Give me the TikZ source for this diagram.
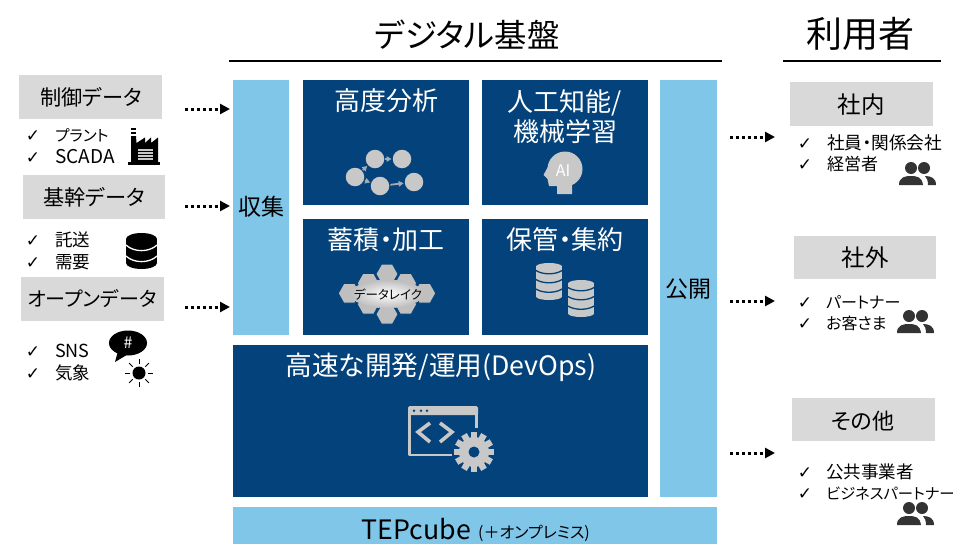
\documentclass[tikz,border=0pt]{standalone}
\usepackage{fontspec}
\setmainfont{Noto Sans CJK JP}[RawFeature=+palt]
\newfontfamily\symfont{DejaVu Sans}
\usetikzlibrary{arrows.meta,calc}
\definecolor{navy}{HTML}{03427A}
\definecolor{skyb}{HTML}{7FC6E8}
\definecolor{lgrey}{HTML}{D9D9D9}
\definecolor{igrey}{HTML}{C8C8C8}
\definecolor{hgrey}{HTML}{BFBFBF}
\definecolor{dgrey}{HTML}{333333}
\newcommand{\fs}[1]{\fontsize{#1}{#1}\selectfont}
\tikzset{
  txt/.style={inner sep=0pt,execute at begin node={\rule[-.12em]{0pt}{1em}},execute at end node={\rule[-.12em]{0pt}{1em}}},
  title/.style={txt,font=\fs{32.4}},
  cat/.style={txt,font=\fs{21.2}},
  head/.style={txt,font=\fontsize{26}{30}\selectfont,text=white,align=center},
  side/.style={txt,font=\fs{23},text=black},
  item/.style={txt,anchor=west,font=\fs{17}},
  tick/.style={txt,font=\symfont\fs{17}},
  flow/.style={line width=3pt,dash pattern=on 3pt off 2.9pt,-{Triangle[length=10pt,width=10pt]}},
  garrow/.style={draw=hgrey!85!navy,line width=1.8pt,-{Triangle[length=5pt,width=5.5pt]},shorten >=1pt,shorten <=1pt},
  gnode/.style={circle,fill=igrey,minimum size=18.5pt,inner sep=0pt},
  greybox/.style={fill=lgrey},
  navybox/.style={fill=navy},
  skybox/.style={fill=skyb}
}
\newcommand{\lst}[5]{% name, check x, text x, y, text
  \node[tick] (#1c) at (#2,#4) {✓};
  \node[item] (#1) at (#3,#4) {#5};
}
\newcommand{\people}[2]{% left, head y
  \fill[dgrey] ({#1+12},#2) circle (6);
  \fill[dgrey] ({#1+25},#2) circle (6);
  \fill[dgrey] (#1,{#2+17}) .. controls (#1,{#2+9}) and ({#1+6},{#2+8}) .. ({#1+12},{#2+8}) .. controls ({#1+18},{#2+8}) and ({#1+23},{#2+9}) .. ({#1+24},{#2+17}) -- cycle;
  \fill[dgrey] ({#1+26},{#2+8}) .. controls ({#1+32},{#2+8}) and ({#1+37},{#2+10}) .. ({#1+37},{#2+17}) -- ({#1+29},{#2+17}) .. controls ({#1+29},{#2+13}) and ({#1+28},{#2+10}) .. ({#1+26},{#2+8}) -- cycle;
}
\newcommand{\dbicon}[8]{% cx, top, half width, bottom, ry, fill, sep colour, separators
  \fill[#6] (#1,{#2+#5}) ellipse [x radius=#3,y radius=#5];
  \fill[#6] (#1,{#4-#5}) ellipse [x radius=#3,y radius=#5];
  \fill[#6] ({#1-#3},{#2+#5}) rectangle ({#1+#3},{#4-#5});
  \foreach \s in {#8}
    \draw[#7,line width=1.3pt] ({#1-#3},\s) .. controls ({#1-#3/2},{\s+#5*1.25}) and ({#1+#3/2},{\s+#5*1.25}) .. ({#1+#3},\s);
}
\newcommand{\hexa}[2]{%
  \fill[hgrey,draw=navy,line width=.8pt] ({#1-11},#2) -- ({#1-5.5},{#2-9.8}) -- ({#1+5.5},{#2-9.8}) -- ({#1+11},#2) -- ({#1+5.5},{#2+9.8}) -- ({#1-5.5},{#2+9.8}) -- cycle;
}
\begin{document}
\begin{tikzpicture}[x=1pt,y=-1pt]
\useasboundingbox (0,0) rectangle (980,544);

% titles
\node[title] (tmain) at (467,35) {デジタル基盤};
\node[title,font=\fs{36}] (tuser) at (860,34) {利用者};
\draw[line width=1.4pt] (229,61) -- (722,61);
\draw[line width=1.4pt] (783,61) -- (941,61);

% left categories
\path[greybox] (19,75) rectangle (162,119);
\node[cat] (ctrl) at (91,97) {制御データ};
\path[greybox] (23,175) rectangle (165,219);
\node[cat] (core) at (94,197) {基幹データ};
\path[greybox] (21,277) rectangle (164,321);
\node[cat,font=\fs{20}] (open) at (92,299) {オープンデータ};

\lst{l1}{33}{55}{135}{\fs{15.5}プラント}
\lst{l2}{33}{55}{157}{\fs{19}SCADA}
\lst{l3}{33}{55}{240}{\fs{17.5}託送}
\lst{l4}{33}{55}{262}{\fs{17.5}需要}
\lst{l5}{33}{55}{351}{\fs{18}SNS}
\lst{l6}{33}{55}{373}{\fs{17.5}気象}

% factory icon
\fill[black] (128,162) rectangle (159.5,164.5);
\fill[black] (131,136) -- (136,136) -- (136.5,143) -- (145,137.5) -- (145,143) -- (151,137.5) -- (151,143) -- (158,137.5) -- (158,162) -- (131,162) -- cycle;
\fill[black] (131,128) rectangle (136,130);
\fill[black] (131,132) rectangle (136,134);
\foreach \yy in {149,152,155,158}
  \fill[igrey] (138,\yy) rectangle (153,{\yy+1.6});

% database icon (black)
\dbicon{141.5}{233}{15.5}{269}{6}{black}{white}{{245},{256}}

% speech bubble and sun
\fill[black] (128,343) ellipse [x radius=19,y radius=12.5];
\fill[black] (118,351) -- (115,362) -- (130,353) -- cycle;
\node[txt,font=\fs{16},text=white] (hash) at (128,342) {\#};
\fill[black] (139,373) circle (6.5);
\foreach \a in {0,45,...,315}
  \draw[black,line width=.9pt] ($(139,373)+(\a:9)$) -- ($(139,373)+(\a:14)$);

% flow arrows, left
\coordinate (a1s) at (185,109); \coordinate (a1e) at (230,109);
\coordinate (a2s) at (185,206); \coordinate (a2e) at (230,206);
\coordinate (a3s) at (185,307); \coordinate (a3e) at (230,307);
\draw[flow] (a1s) -- (a1e);
\draw[flow] (a2s) -- (a2e);
\draw[flow] (a3s) -- (a3e);

% platform
\path[skybox] (233,80) rectangle (289,335);
\node[side] (collect) at (261,207) {収集};
\path[navybox] (303,80) rectangle (469,205);
\node[head] (adv) at (386,101) {高度分析};
\path[navybox] (482,80) rectangle (648,205);
\node[head] (ai) at (565,117) {人工知能/\\機械学習};
\path[navybox] (303,219) rectangle (469,335);
\node[head] (store) at (386,240) {蓄積・加工};
\path[navybox] (482,219) rectangle (648,335);
\node[head] (keep) at (565,240) {保管・集約};
\path[navybox] (233,345) rectangle (648,497);
\node[head,font=\fs{26.7}] (devops) at (441,367) {高速な開発/運用(DevOps)};
\path[skybox] (660,80) rectangle (717,497);
\node[side] (pub) at (688,289) {公開};
\path[skybox] (233,507) rectangle (717,544);
\node[txt,font=\fs{26.7},anchor=east] (tep) at (471,529) {TEPcube};
\node[txt,font=\fs{16},anchor=west] (onp) at (478,533) {(＋オンプレミス)};

% analysis graph
\node[gnode] (g1) at (355,177) {};
\node[gnode] (g2) at (375,159) {};
\node[gnode] (g3) at (402,159) {};
\node[gnode] (g4) at (380,186) {};
\node[gnode] (g5) at (414,182) {};
\draw[garrow] (g1) -- (g2);
\draw[garrow] (g2) -- (g3);
\draw[garrow] (g1) -- (g4);
\draw[garrow] (g4) -- (g5);

% AI head
\fill[igrey] (565,169) circle (17.5);
\fill[igrey] (557,194) -- (557,186) -- (549,186) -- (547.5,179) -- (543.5,175) -- (550,163) -- (560,160) -- (572,182) -- (572,194) -- cycle;
\node[txt,font=\fs{16},text=white] (ailab) at (563,170) {AI};

% data lake
\foreach \hx/\hy in {387/274,368.3/283.3,405.7/283.3,349.3/293.3,424.7/293.3,387/294,368.3/304.3,405.7/304.3,387/314.3}
  \hexa{\hx}{\hy}
\shade[inner color=white,outer color=hgrey] (387,294) ellipse [x radius=36,y radius=14];
\node[txt,font=\fs{12.5}] (lake) at (388,295) {データレイク};

% storage stacks
\dbicon{549}{263}{13}{300}{3.5}{igrey}{navy}{{270.5},{279.5},{289}}
\dbicon{581}{280}{13}{317}{3.5}{igrey}{navy}{{287.5},{296.5},{306}}

% devops icon
\fill[igrey,rounded corners=1.5pt] (408,406) rectangle (478,415);
\draw[igrey,line width=2.6pt,line join=round] (409.5,412) -- (409.5,455) -- (452,455);
\draw[igrey,line width=2.6pt] (476.5,412) -- (476.5,428);
\foreach \dx in {414,421,427}
  \fill[navy] (\dx,410.7) circle (1.4);
\draw[igrey,line width=3.6pt] (430,423) -- (418,432) -- (430,442);
\draw[igrey,line width=3.6pt] (440,423) -- (452,432) -- (440,442);
\fill[navy] (474,452) circle (22);
\fill[igrey] (474,452) circle (15);
\foreach \a in {0,30,...,330}
  \fill[igrey,rotate around={\a:(474,452)}] (470.8,432) rectangle (477.2,440);
\fill[navy] (474,452) circle (5.5);

% flow arrows, right
\coordinate (b1s) at (730,137); \coordinate (b1e) at (775,137);
\coordinate (b2s) at (730,301); \coordinate (b2e) at (775,301);
\coordinate (b3s) at (730,453); \coordinate (b3e) at (775,453);
\draw[flow] (b1s) -- (b1e);
\draw[flow] (b2s) -- (b2e);
\draw[flow] (b3s) -- (b3e);

% right categories
\path[greybox] (790,82) rectangle (933,126);
\node[cat,font=\fs{23.5}] (inside) at (861,105) {社内};
\path[greybox] (794,236) rectangle (936,279);
\node[cat,font=\fs{23.5}] (outside) at (865,258) {社外};
\path[greybox] (792,398) rectangle (935,441);
\node[cat,font=\fs{22}] (other) at (863,421) {その他};

\lst{r1}{805}{827}{143}{\fs{17.7}社員・関係会社}
\lst{r2}{805}{827}{164}{経営者}
\lst{r3}{805}{826}{302}{\fs{16}パートナー}
\lst{r4}{805}{826}{323}{\fs{16}お客さま}
\lst{r5}{805}{826}{472}{\fs{17.5}公共事業者}
\lst{r6}{805}{826}{493}{\fs{15.3}ビジネスパートナー}

\people{899}{168}
\people{897}{316}
\people{897}{508}
\end{tikzpicture}
\end{document}
